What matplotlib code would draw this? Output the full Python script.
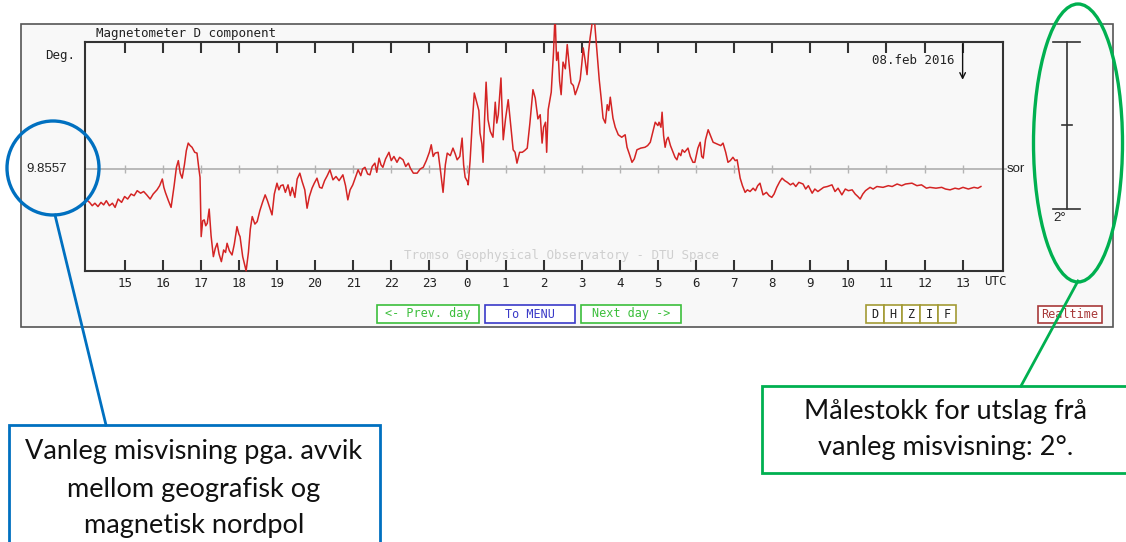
import matplotlib
matplotlib.use("Agg")
import matplotlib.pyplot as plt
import matplotlib.transforms as mtransforms
from matplotlib.patches import Rectangle, Ellipse
from matplotlib.lines import Line2D
import numpy as np

# ---------------- data ----------------
BASE_DEG = 9.8557
SCALE_DEG = 2.0
Y_RANGE = (-1.222, 1.521)        # degrees relative to base
X_RANGE = (13.96, 38.06)         # hours since 00 UTC of first day

utc_hours = [
    14.00, 14.08, 14.15, 14.22, 14.30, 14.38, 14.45, 14.52, 14.60, 14.68, 14.75, 14.83, 14.92,
    15.00, 15.08, 15.17, 15.25, 15.33, 15.42, 15.50, 15.58, 15.67, 15.75, 15.85, 15.92, 15.99,
    16.03, 16.07, 16.15, 16.22, 16.30, 16.36, 16.41, 16.46, 16.51, 16.57, 16.62, 16.67, 16.72,
    16.77, 16.84, 16.90, 16.95, 16.98, 17.01, 17.05, 17.09, 17.13, 17.17, 17.22, 17.27, 17.33,
    17.38, 17.43, 17.48, 17.54, 17.60, 17.65, 17.69, 17.75, 17.82, 17.88, 17.95, 18.00, 18.03,
    18.10, 18.19, 18.25, 18.30, 18.35, 18.42, 18.48, 18.55, 18.62, 18.69, 18.75, 18.80, 18.87,
    18.93, 19.00, 19.05, 19.10, 19.16, 19.22, 19.29, 19.35, 19.40, 19.47, 19.53, 19.60, 19.66,
    19.73, 19.79, 19.85, 19.92, 19.98, 20.05, 20.12, 20.18, 20.25, 20.32, 20.39, 20.47, 20.55,
    20.63, 20.73, 20.80, 20.86, 20.92, 20.99, 21.06, 21.13, 21.20, 21.25, 21.31, 21.38, 21.44,
    21.50, 21.57, 21.62, 21.68, 21.73, 21.78, 21.85, 21.94, 22.00, 22.07, 22.15, 22.22, 22.31,
    22.38, 22.45, 22.50, 22.58, 22.68, 22.76, 22.84, 22.92, 23.00, 23.05, 23.10, 23.15, 23.23,
    23.30, 23.36, 23.42, 23.47, 23.55, 23.62, 23.68, 23.73, 23.80, 23.86, 23.90, 23.94, 24.00,
    24.02, 24.07, 24.12, 24.18, 24.25, 24.30, 24.33, 24.38, 24.41, 24.45, 24.49, 24.54, 24.60,
    24.67, 24.73, 24.77, 24.81, 24.85, 24.88, 24.91, 24.94, 25.00, 25.07, 25.13, 25.20, 25.25,
    25.30, 25.37, 25.44, 25.50, 25.57, 25.64, 25.72, 25.78, 25.85, 25.91, 25.96, 26.00, 26.05,
    26.08, 26.12, 26.20, 26.26, 26.30, 26.34, 26.38, 26.42, 26.46, 26.51, 26.57, 26.62, 26.67,
    26.72, 26.78, 26.83, 26.90, 26.96, 27.00, 27.04, 27.09, 27.14, 27.18, 27.22, 27.26, 27.30,
    27.34, 27.38, 27.42, 27.46, 27.51, 27.56, 27.62, 27.67, 27.71, 27.75, 27.82, 27.88, 27.96,
    28.05, 28.14, 28.19, 28.25, 28.32, 28.38, 28.45, 28.55, 28.66, 28.73, 28.80, 28.87, 28.93,
    29.00, 29.03, 29.08, 29.11, 29.15, 29.19, 29.23, 29.27, 29.33, 29.40, 29.45, 29.50, 29.55,
    29.60, 29.64, 29.70, 29.79, 29.85, 29.92, 29.97, 30.05, 30.11, 30.15, 30.19, 30.25, 30.32,
    30.38, 30.45, 30.55, 30.65, 30.71, 30.78, 30.84, 30.90, 30.97, 31.03, 31.08, 31.12, 31.16,
    31.22, 31.29, 31.35, 31.42, 31.50, 31.56, 31.62, 31.68, 31.76, 31.85, 31.92, 31.99, 32.05,
    32.12, 32.20, 32.26, 32.33, 32.40, 32.48, 32.55, 32.62, 32.70, 32.81, 32.88, 32.95, 33.05,
    33.12, 33.20, 33.26, 33.35, 33.45, 33.57, 33.65, 33.73, 33.83, 33.92, 34.00, 34.10, 34.18,
    34.25, 34.31, 34.38, 34.45, 34.57, 34.65, 34.75, 34.91, 35.05, 35.15, 35.28, 35.40, 35.50,
    35.67, 35.80, 35.92, 36.05, 36.14, 36.30, 36.45, 36.55, 36.67, 36.80, 36.90, 37.01, 37.15,
    37.30, 37.40, 37.48,
]

d_offset_deg = [
    -0.37, -0.40, -0.44, -0.41, -0.45, -0.40, -0.43, -0.38, -0.44, -0.41, -0.46, -0.36, -0.40,
    -0.33, -0.36, -0.30, -0.32, -0.26, -0.29, -0.27, -0.31, -0.36, -0.30, -0.25, -0.20, -0.12,
    -0.22, -0.28, -0.38, -0.46, -0.20, 0.02, 0.10, -0.05, -0.11, 0.05, 0.22, 0.31, 0.28,
    0.26, 0.20, 0.19, 0.00, -0.10, -0.81, -0.62, -0.61, -0.68, -0.65, -0.48, -0.80, -1.05,
    -0.95, -0.89, -1.02, -1.11, -0.97, -1.00, -0.89, -0.98, -1.03, -0.90, -0.69, -0.78, -0.81,
    -1.05, -1.22, -1.00, -0.72, -0.57, -0.66, -0.63, -0.50, -0.40, -0.31, -0.38, -0.45, -0.55,
    -0.30, -0.17, -0.25, -0.20, -0.19, -0.28, -0.19, -0.32, -0.22, -0.34, -0.12, -0.05, -0.15,
    -0.25, -0.47, -0.33, -0.23, -0.17, -0.11, -0.22, -0.23, -0.14, -0.08, -0.01, -0.13, -0.09,
    -0.14, -0.07, -0.20, -0.37, -0.25, -0.19, -0.10, -0.01, -0.08, 0.00, 0.02, -0.06, -0.07,
    0.03, 0.07, -0.04, 0.13, 0.05, 0.02, 0.12, 0.20, 0.10, 0.15, 0.08, 0.14, 0.11,
    0.03, 0.07, 0.01, -0.05, -0.05, 0.00, 0.02, 0.10, 0.20, 0.29, 0.15, 0.19, 0.20,
    -0.05, -0.28, 0.05, 0.19, 0.16, 0.25, 0.18, 0.11, 0.15, 0.37, 0.05, -0.10, -0.15,
    -0.19, 0.10, 0.50, 0.91, 0.79, 0.70, 0.43, 0.30, 0.08, 0.60, 1.04, 0.59, 0.45,
    0.38, 0.80, 0.55, 0.65, 0.90, 1.09, 0.70, 0.35, 0.60, 0.83, 0.55, 0.23, 0.20,
    0.07, 0.20, 0.20, 0.22, 0.25, 0.55, 0.95, 0.85, 0.60, 0.65, 0.31, 0.50, 0.56,
    0.20, 0.71, 0.92, 1.40, 1.85, 1.30, 1.40, 1.05, 0.89, 1.28, 1.20, 1.49, 1.25,
    1.03, 1.00, 0.89, 0.98, 1.07, 1.25, 1.45, 1.30, 1.13, 1.40, 1.57, 1.70, 1.85,
    1.75, 1.52, 1.30, 1.07, 0.85, 0.61, 0.55, 0.77, 0.70, 0.86, 0.61, 0.50, 0.41,
    0.38, 0.41, 0.26, 0.18, 0.08, 0.12, 0.23, 0.25, 0.26, 0.28, 0.32, 0.45, 0.56,
    0.52, 0.56, 0.50, 0.68, 0.40, 0.26, 0.35, 0.38, 0.28, 0.20, 0.14, 0.11, 0.19,
    0.16, 0.23, 0.20, 0.25, 0.15, 0.08, 0.08, 0.25, 0.32, 0.15, 0.13, 0.35, 0.47,
    0.40, 0.32, 0.30, 0.28, 0.31, 0.20, 0.08, 0.10, 0.14, 0.10, 0.11, 0.00, -0.11,
    -0.20, -0.28, -0.25, -0.27, -0.23, -0.26, -0.20, -0.17, -0.31, -0.28, -0.32, -0.34, -0.30,
    -0.22, -0.15, -0.11, -0.14, -0.16, -0.19, -0.17, -0.21, -0.16, -0.18, -0.24, -0.20, -0.29,
    -0.24, -0.27, -0.25, -0.22, -0.21, -0.19, -0.27, -0.23, -0.31, -0.24, -0.26, -0.25, -0.30,
    -0.33, -0.36, -0.30, -0.26, -0.22, -0.24, -0.21, -0.22, -0.20, -0.21, -0.18, -0.20, -0.18,
    -0.17, -0.20, -0.19, -0.23, -0.22, -0.23, -0.22, -0.24, -0.25, -0.23, -0.24, -0.22, -0.24,
    -0.22, -0.23, -0.21,
]

tick_hours = list(range(15, 38))
tick_labels = [str(h % 24) for h in tick_hours]
now_hour = 37
date_label = "08.feb 2016"
base_label = "9.8557"

buttons = [("<- Prev. day", "#3cbf3c"), ("To MENU", "#3a3ac8"), ("Next day ->", "#3cbf3c")]
comp_letters = ["D", "H", "Z", "I", "F"]
blue_note = ["Vanleg misvisning pga. avvik", "mellom geografisk og", "magnetisk nordpol"]
green_note = ["Målestokk for utslag frå", "vanleg misvisning: 2°."]

# ---------------- layout helpers ----------------
W, H = 1126, 542
fig = plt.figure(figsize=(W / 100, H / 100), dpi=100)
fig.patch.set_facecolor("white")


def fx(px):
    return px / W


def fy(py):
    return 1 - py / H


MONO = "DejaVu Sans Mono"
SANS = "Liberation Sans"
NOTE_FONT = ["Lato", "DejaVu Sans"]
PANEL_BG = "#f8f8f8"
DARK = "#333333"

panel = Rectangle((fx(21), fy(327)), fx(1113) - fx(21), fy(24) - fy(327),
                  transform=fig.transFigure, facecolor=PANEL_BG, edgecolor="#555555",
                  linewidth=1.2, zorder=-5)
fig.add_artist(panel)

ax = fig.add_axes([fx(85), fy(271), fx(1003) - fx(85), fy(42) - fy(271)])
ax.set_facecolor(PANEL_BG)
ax.set_xlim(*X_RANGE)
ax.set_ylim(BASE_DEG + Y_RANGE[0], BASE_DEG + Y_RANGE[1])
for s in ax.spines.values():
    s.set_color(DARK)
    s.set_linewidth(1.5)

# baseline and its small hour marks
ax.axhline(BASE_DEG, color="#b4b4b4", lw=1.3, zorder=1)
ax.plot(tick_hours, [BASE_DEG] * len(tick_hours), ls="none", marker="|", ms=6,
        mew=1.0, color="#b4b4b4", zorder=1)

# data line, clipped to the outer panel so peaks run above the axes
vals = BASE_DEG + np.array(d_offset_deg)
ln, = ax.plot(utc_hours, vals, color="#d42424", lw=1.1, zorder=3)
ln.set_clip_path(panel)

ax.set_xticks(tick_hours)
ax.set_xticklabels(tick_labels, family=MONO, fontsize=9, color="#222222")
ax.set_yticks([])
ax.tick_params(axis="x", direction="in", length=8, width=1.5, color=DARK,
               top=True, pad=4)

# date label + arrow at current time
fig.text(fx(955), fy(60), date_label, family=MONO, fontsize=9, ha="right",
         va="center", color="#222222")
ax.annotate("", xy=(now_hour, 0.835), xytext=(now_hour, 0.99),
            xycoords=ax.get_xaxis_transform(), textcoords=ax.get_xaxis_transform(),
            arrowprops=dict(arrowstyle="->", color="#111111", lw=1.0,
                            shrinkA=0, shrinkB=0, mutation_scale=10))

fig.text(fx(96), fy(33), "Magnetometer D component", family=MONO, fontsize=9,
         ha="left", va="center", color="#222222")
fig.text(fx(60), fy(56), "Deg.", family=MONO, fontsize=9, ha="center",
         va="center", color="#222222")
fig.text(fx(995), fy(282), "UTC", family=MONO, fontsize=9, ha="center",
         va="center", color="#222222")
fig.text(fx(561), fy(256), "Tromso Geophysical Observatory - DTU Space",
         family=MONO, fontsize=9, ha="center", va="center", color="#cfcfcf")

trans = mtransforms.blended_transform_factory(fig.transFigure, ax.transData)
ax.text(fx(47), BASE_DEG, base_label, transform=trans, family=SANS, fontsize=9.5,
        ha="center", va="center", color="#222222", clip_on=False)
ax.plot([fx(1003), fx(1006)], [BASE_DEG, BASE_DEG], transform=trans, color="#b4b4b4",
        lw=1.3, clip_on=False)
ax.text(fx(1016), BASE_DEG, "sor", transform=trans, family=SANS, fontsize=9.5,
        ha="center", va="center", color="#222222", clip_on=False)

# scale bar: 2 degrees
ytop = BASE_DEG + Y_RANGE[1]
ybot = ytop - SCALE_DEG
ymid = ytop - SCALE_DEG / 2
for xs, yv in [((fx(1067), fx(1067)), (ytop, ybot)),
               ((fx(1053), fx(1080)), (ytop, ytop)),
               ((fx(1053), fx(1080)), (ybot, ybot)),
               ((fx(1062), fx(1072)), (ymid, ymid))]:
    ax.plot(xs, yv, transform=trans, color=DARK, lw=1.2, clip_on=False)
ax.text(fx(1060), ybot - 0.04, f"{SCALE_DEG:.0f}°", transform=trans, family=SANS,
        fontsize=9.5, ha="center", va="top", color="#222222", clip_on=False)


# buttons
def box(x0, x1, y0, y1, text, ec, tc=None):
    r = Rectangle((fx(x0), fy(y1)), fx(x1) - fx(x0), fy(y0) - fy(y1),
                  transform=fig.transFigure, facecolor="white", edgecolor=ec,
                  linewidth=1.2, zorder=2)
    fig.add_artist(r)
    fig.text(fx((x0 + x1) / 2), fy((y0 + y1) / 2), text, family=MONO, fontsize=8.5,
             ha="center", va="center", color=tc or ec, zorder=3)


bx = [(377, 479), (485, 575), (581, 681)]
for (x0, x1), (t, c) in zip(bx, buttons):
    box(x0, x1, 305, 323, t, c)
cx = 866
for L in comp_letters:
    box(cx, cx + 18, 305, 323, L, "#a39b35", "#222222")
    cx += 18
box(1038, 1102, 306, 323, "Realtime", "#a83a3a")

# annotations
BLUE = "#0070C0"
GREEN = "#00B050"
fig.add_artist(Ellipse((fx(53), fy(168)), fx(92), 94 / H, transform=fig.transFigure,
                       fill=False, edgecolor=BLUE, linewidth=2.4, zorder=10))
fig.add_artist(Line2D([fx(55), fx(106)], [fy(215), fy(425)], transform=fig.transFigure,
                      color=BLUE, linewidth=2.0, zorder=10))
fig.add_artist(Rectangle((fx(9), fy(560)), fx(380) - fx(9), fy(425) - fy(560),
                         transform=fig.transFigure, facecolor="white", edgecolor=BLUE,
                         linewidth=2.0, zorder=9))
for line, yy in zip(blue_note, [451, 489, 526]):
    fig.text(fx(194), fy(yy), line, family=NOTE_FONT, fontsize=19.5,
             ha="center", va="center", color="#111111", zorder=11)

fig.add_artist(Ellipse((fx(1078), fy(143)), fx(89), 278 / H, transform=fig.transFigure,
                       fill=False, edgecolor=GREEN, linewidth=2.4, zorder=10))
fig.add_artist(Line2D([fx(1078), fx(1021)], [fy(281), fy(386)], transform=fig.transFigure,
                      color=GREEN, linewidth=2.0, zorder=10))
fig.add_artist(Rectangle((fx(762), fy(473)), fx(1130) - fx(762), fy(386) - fy(473),
                         transform=fig.transFigure, facecolor="white", edgecolor=GREEN,
                         linewidth=2.0, zorder=9))
for line, yy in zip(green_note, [412, 448]):
    fig.text(fx(946), fy(yy), line, family=NOTE_FONT, fontsize=19.5,
             ha="center", va="center", color="#111111", zorder=11)

fig.savefig("out.png", dpi=100)
